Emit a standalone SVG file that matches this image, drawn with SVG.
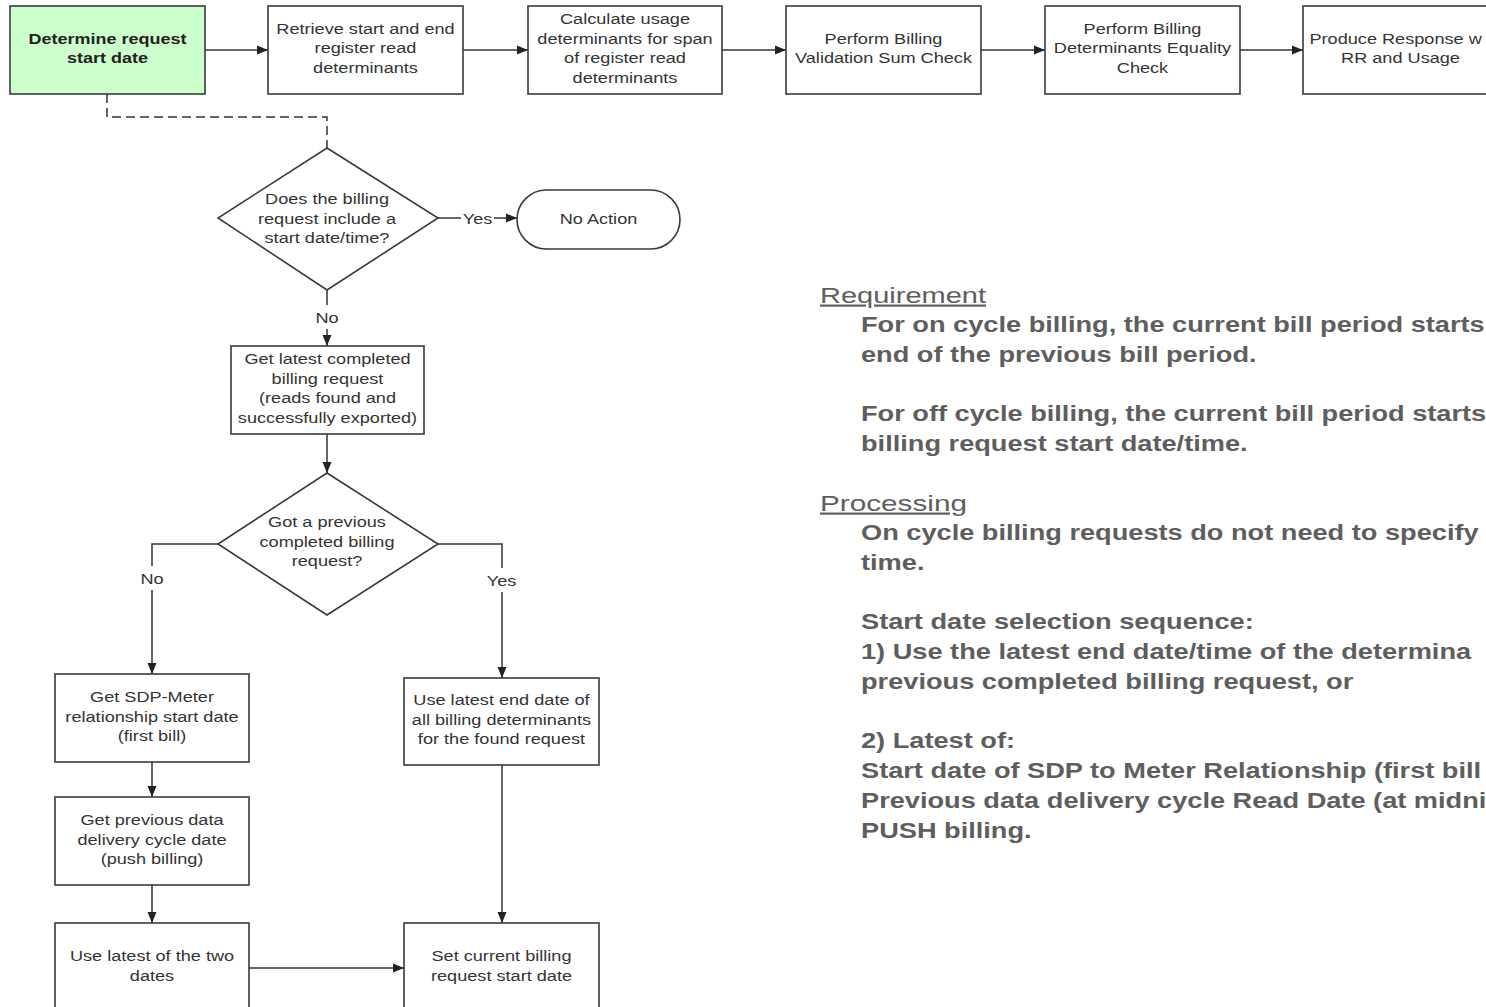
<svg xmlns="http://www.w3.org/2000/svg" width="1486" height="1007" viewBox="0 0 1486 1007">
  <defs>
    <marker id="arrow" markerUnits="userSpaceOnUse" markerWidth="12" markerHeight="10" refX="11" refY="5" orient="auto">
      <path d="M0,0.5 L11,5 L0,9.5 z" fill="#222"/>
    </marker>
    <style>
      .box { fill: #ffffff; stroke: #3a3a3a; stroke-width: 1.6; }
      .start { fill: #ccffcc; }
      .lbl { font-family: "Liberation Sans", Arial, sans-serif; font-size: 15px; fill: #333333; text-anchor: middle; }
      .bold { font-weight: bold; fill: #222222; }
      .edge { fill: none; stroke: #333; stroke-width: 1.5; }
      .arr { marker-end: url(#arrow); }
      .dash { stroke-dasharray: 9 5; }
      .mask { fill: #ffffff; }
      .note { font-family: "Liberation Sans", Arial, sans-serif; font-size: 22px; font-weight: bold; fill: #5e5e5e; }
      .head { font-family: "Liberation Sans", Arial, sans-serif; font-size: 22px; fill: #5e5e5e; text-decoration: underline; }
    </style>
  </defs>
  <rect width="1486" height="1007" fill="#ffffff"/>

  <!-- connectors -->
  <g id="connectors">
    <path class="edge arr" d="M205,50 H268"/>
    <path class="edge arr" d="M463,50 H528"/>
    <path class="edge arr" d="M722,50 H786"/>
    <path class="edge arr" d="M981,50 H1045"/>
    <path class="edge arr" d="M1240,50 H1303"/>
    <path class="edge dash" d="M107,94 V117 H327 V148"/>
    <path class="edge arr" d="M438,218 H517"/>
    <path class="edge arr" d="M327,290 V346"/>
    <path class="edge arr" d="M327,434 V473"/>
    <path class="edge arr" d="M218,544 H152 V674"/>
    <path class="edge arr" d="M438,544 H502 V678"/>
    <path class="edge arr" d="M152,762 V797"/>
    <path class="edge arr" d="M152,885 V923"/>
    <path class="edge arr" d="M502,765 V923"/>
    <path class="edge arr" d="M249,968 H404"/>
    <!-- branch labels -->
    <rect class="mask" x="461" y="208" width="33" height="20"/>
    <text class="lbl" transform="translate(477.5 0) scale(1.21 1)"><tspan x="0" y="224">Yes</tspan></text>
    <rect class="mask" x="314" y="305" width="26" height="24"/>
    <text class="lbl" transform="translate(327 0) scale(1.21 1)"><tspan x="0" y="323">No</tspan></text>
    <rect class="mask" x="139" y="566" width="26" height="24"/>
    <text class="lbl" transform="translate(152 0) scale(1.21 1)"><tspan x="0" y="584">No</tspan></text>
    <rect class="mask" x="485" y="568" width="33" height="24"/>
    <text class="lbl" transform="translate(501.5 0) scale(1.21 1)"><tspan x="0" y="586">Yes</tspan></text>
  </g>

  <!-- top process row -->
  <g id="determine-start">
    <rect class="box start" x="10" y="6" width="195" height="88"/>
    <text class="lbl bold" transform="translate(107.5 0) scale(1.2 1)"><tspan x="0" y="44">Determine request</tspan><tspan x="0" y="63.5">start date</tspan></text>
  </g>
  <g id="retrieve-reads">
    <rect class="box" x="268" y="6" width="195" height="88"/>
    <text class="lbl" transform="translate(365.5 0) scale(1.21 1)"><tspan x="0" y="34">Retrieve start and end</tspan><tspan x="0" y="53.5">register read</tspan><tspan x="0" y="73">determinants</tspan></text>
  </g>
  <g id="calc-usage">
    <rect class="box" x="528" y="6" width="194" height="88"/>
    <text class="lbl" transform="translate(625 0) scale(1.21 1)"><tspan x="0" y="24.5">Calculate usage</tspan><tspan x="0" y="44">determinants for span</tspan><tspan x="0" y="63.5">of register read</tspan><tspan x="0" y="83">determinants</tspan></text>
  </g>
  <g id="sum-check">
    <rect class="box" x="786" y="6" width="195" height="88"/>
    <text class="lbl" transform="translate(883.5 0) scale(1.21 1)"><tspan x="0" y="44">Perform Billing</tspan><tspan x="0" y="63.5">Validation Sum Check</tspan></text>
  </g>
  <g id="equality-check">
    <rect class="box" x="1045" y="6" width="195" height="88"/>
    <text class="lbl" transform="translate(1142.5 0) scale(1.21 1)"><tspan x="0" y="34">Perform Billing</tspan><tspan x="0" y="53.5">Determinants Equality</tspan><tspan x="0" y="73">Check</tspan></text>
  </g>
  <g id="produce-response">
    <rect class="box" x="1303" y="6" width="195" height="88"/>
    <text class="lbl" transform="translate(1309.5 0) scale(1.21 1)" style="text-anchor: start"><tspan x="0" y="44">Produce Response w</tspan></text>
    <text class="lbl" transform="translate(1400.5 0) scale(1.21 1)"><tspan x="0" y="63.5">RR and Usage</tspan></text>
  </g>

  <!-- start date sub-process -->
  <g id="has-start-date">
    <polygon class="box" points="327,148 438,218 327,290 218,218"/>
    <text class="lbl" transform="translate(327 0) scale(1.21 1)"><tspan x="0" y="204.5">Does the billing</tspan><tspan x="0" y="224">request include a</tspan><tspan x="0" y="243.5">start date/time?</tspan></text>
  </g>
  <g id="no-action">
    <rect class="box" x="517" y="190" width="163" height="59" rx="29.5" ry="29.5"/>
    <text class="lbl" transform="translate(598.5 0) scale(1.21 1)"><tspan x="0" y="224">No Action</tspan></text>
  </g>
  <g id="latest-completed">
    <rect class="box" x="231" y="346" width="193" height="88"/>
    <text class="lbl" transform="translate(327.5 0) scale(1.21 1)"><tspan x="0" y="364.5">Get latest completed</tspan><tspan x="0" y="384">billing request</tspan><tspan x="0" y="403.5">(reads found and</tspan><tspan x="0" y="423">successfully exported)</tspan></text>
  </g>
  <g id="got-previous">
    <polygon class="box" points="327,473 438,544 327,615 218,544"/>
    <text class="lbl" transform="translate(327 0) scale(1.21 1)"><tspan x="0" y="527.5">Got a previous</tspan><tspan x="0" y="547">completed billing</tspan><tspan x="0" y="566.5">request?</tspan></text>
  </g>
  <g id="sdp-meter-start">
    <rect class="box" x="55" y="674" width="194" height="88"/>
    <text class="lbl" transform="translate(152 0) scale(1.21 1)"><tspan x="0" y="702.5">Get SDP-Meter</tspan><tspan x="0" y="722">relationship start date</tspan><tspan x="0" y="741.5">(first bill)</tspan></text>
  </g>
  <g id="latest-end-date">
    <rect class="box" x="404" y="678" width="195" height="87"/>
    <text class="lbl" transform="translate(501.5 0) scale(1.21 1)"><tspan x="0" y="705.5">Use latest end date of</tspan><tspan x="0" y="725">all billing determinants</tspan><tspan x="0" y="744.5">for the found request</tspan></text>
  </g>
  <g id="previous-cycle">
    <rect class="box" x="55" y="797" width="194" height="88"/>
    <text class="lbl" transform="translate(152 0) scale(1.21 1)"><tspan x="0" y="825.5">Get previous data</tspan><tspan x="0" y="845">delivery cycle date</tspan><tspan x="0" y="864.5">(push billing)</tspan></text>
  </g>
  <g id="latest-of-two">
    <rect class="box" x="55" y="923" width="194" height="90"/>
    <text class="lbl" transform="translate(152 0) scale(1.21 1)"><tspan x="0" y="961.5">Use latest of the two</tspan><tspan x="0" y="981">dates</tspan></text>
  </g>
  <g id="set-start-date">
    <rect class="box" x="404" y="923" width="195" height="90"/>
    <text class="lbl" transform="translate(501.5 0) scale(1.21 1)"><tspan x="0" y="961.5">Set current billing</tspan><tspan x="0" y="981">request start date</tspan></text>
  </g>

  <!-- notes -->
  <g id="notes">
    <text class="head" x="820" y="302.5" textLength="166" lengthAdjust="spacingAndGlyphs">Requirement</text>
    <text class="head" x="820" y="510.5" textLength="147" lengthAdjust="spacingAndGlyphs">Processing</text>
    <text class="note" transform="translate(861 0) scale(1.236 1)">
      <tspan x="0" y="332">For on cycle billing, the current bill period starts</tspan>
      <tspan x="0" y="362">end of the previous bill period.</tspan>
      <tspan x="0" y="421">For off cycle billing, the current bill period starts</tspan>
      <tspan x="0" y="451">billing request start date/time.</tspan>
      <tspan x="0" y="540">On cycle billing requests do not need to specify</tspan>
      <tspan x="0" y="570">time.</tspan>
      <tspan x="0" y="629">Start date selection sequence:</tspan>
      <tspan x="0" y="659">1) Use the latest end date/time of the determina</tspan>
      <tspan x="0" y="689">previous completed billing request, or</tspan>
      <tspan x="0" y="748">2) Latest of:</tspan>
      <tspan x="0" y="778">Start date of SDP to Meter Relationship (first bill</tspan>
      <tspan x="0" y="808">Previous data delivery cycle Read Date (at midni</tspan>
      <tspan x="0" y="838">PUSH billing.</tspan>
    </text>
  </g>
</svg>
